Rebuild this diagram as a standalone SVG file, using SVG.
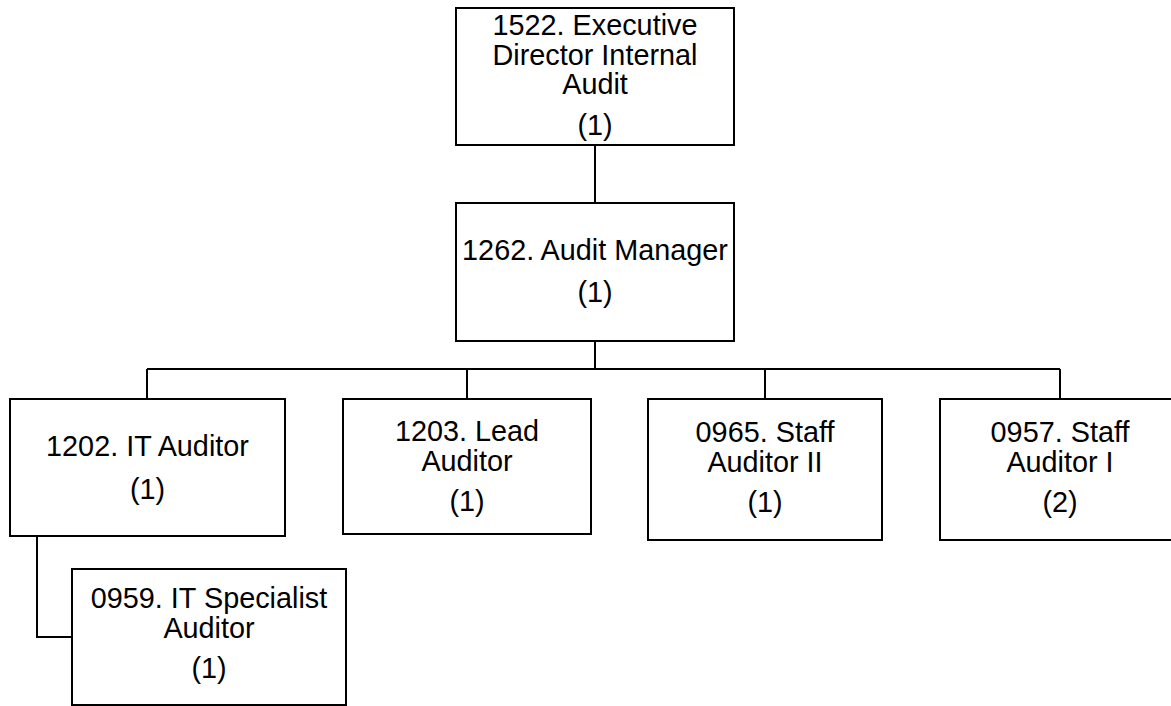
<svg xmlns="http://www.w3.org/2000/svg" width="1171" height="706" viewBox="0 0 1171 706">
<style>
rect{fill:#fff;stroke:#000;stroke-width:2}
.c path{fill:none;stroke:#000;stroke-width:2}
text{font-family:"Liberation Sans",Arial,sans-serif;font-size:28.8px;fill:#000;text-anchor:middle}
</style>
<rect x="0" y="0" width="1171" height="706" style="stroke:none"/>
<g class="c" id="connectors">
<path d="M595 145V203"/>
<path d="M595 341V369"/>
<path d="M147 369H1060"/>
<path d="M147 369V399"/>
<path d="M467 369V399"/>
<path d="M765 369V399"/>
<path d="M1060 369V399"/>
<path d="M37 536V637H72"/>
</g>
<g id="n1522">
<rect x="456" y="8" width="278" height="137"/>
<text x="595" y="35">1522. Executive</text>
<text x="595" y="65">Director Internal</text>
<text x="595" y="94">Audit</text>
<text x="595" y="135">(1)</text>
</g>
<g id="n1262">
<rect x="456" y="203" width="278" height="138"/>
<text x="595" y="260">1262. Audit Manager</text>
<text x="595" y="302">(1)</text>
</g>
<g id="n1202">
<rect x="10" y="399" width="275" height="137"/>
<text x="147.5" y="456">1202. IT Auditor</text>
<text x="147.5" y="499">(1)</text>
</g>
<g id="n1203">
<rect x="343" y="399" width="248" height="135"/>
<text x="467" y="441">1203. Lead</text>
<text x="467" y="471">Auditor</text>
<text x="467" y="511">(1)</text>
</g>
<g id="n0965">
<rect x="648" y="399" width="234" height="141"/>
<text x="765" y="442">0965. Staff</text>
<text x="765" y="472">Auditor II</text>
<text x="765" y="512">(1)</text>
</g>
<g id="n0957">
<rect x="940" y="399" width="240" height="141"/>
<text x="1060" y="442">0957. Staff</text>
<text x="1060" y="472">Auditor I</text>
<text x="1060" y="512">(2)</text>
</g>
<g id="n0959">
<rect x="72" y="569" width="274" height="136"/>
<text x="209" y="608">0959. IT Specialist</text>
<text x="209" y="638">Auditor</text>
<text x="209" y="678">(1)</text>
</g>
</svg>
